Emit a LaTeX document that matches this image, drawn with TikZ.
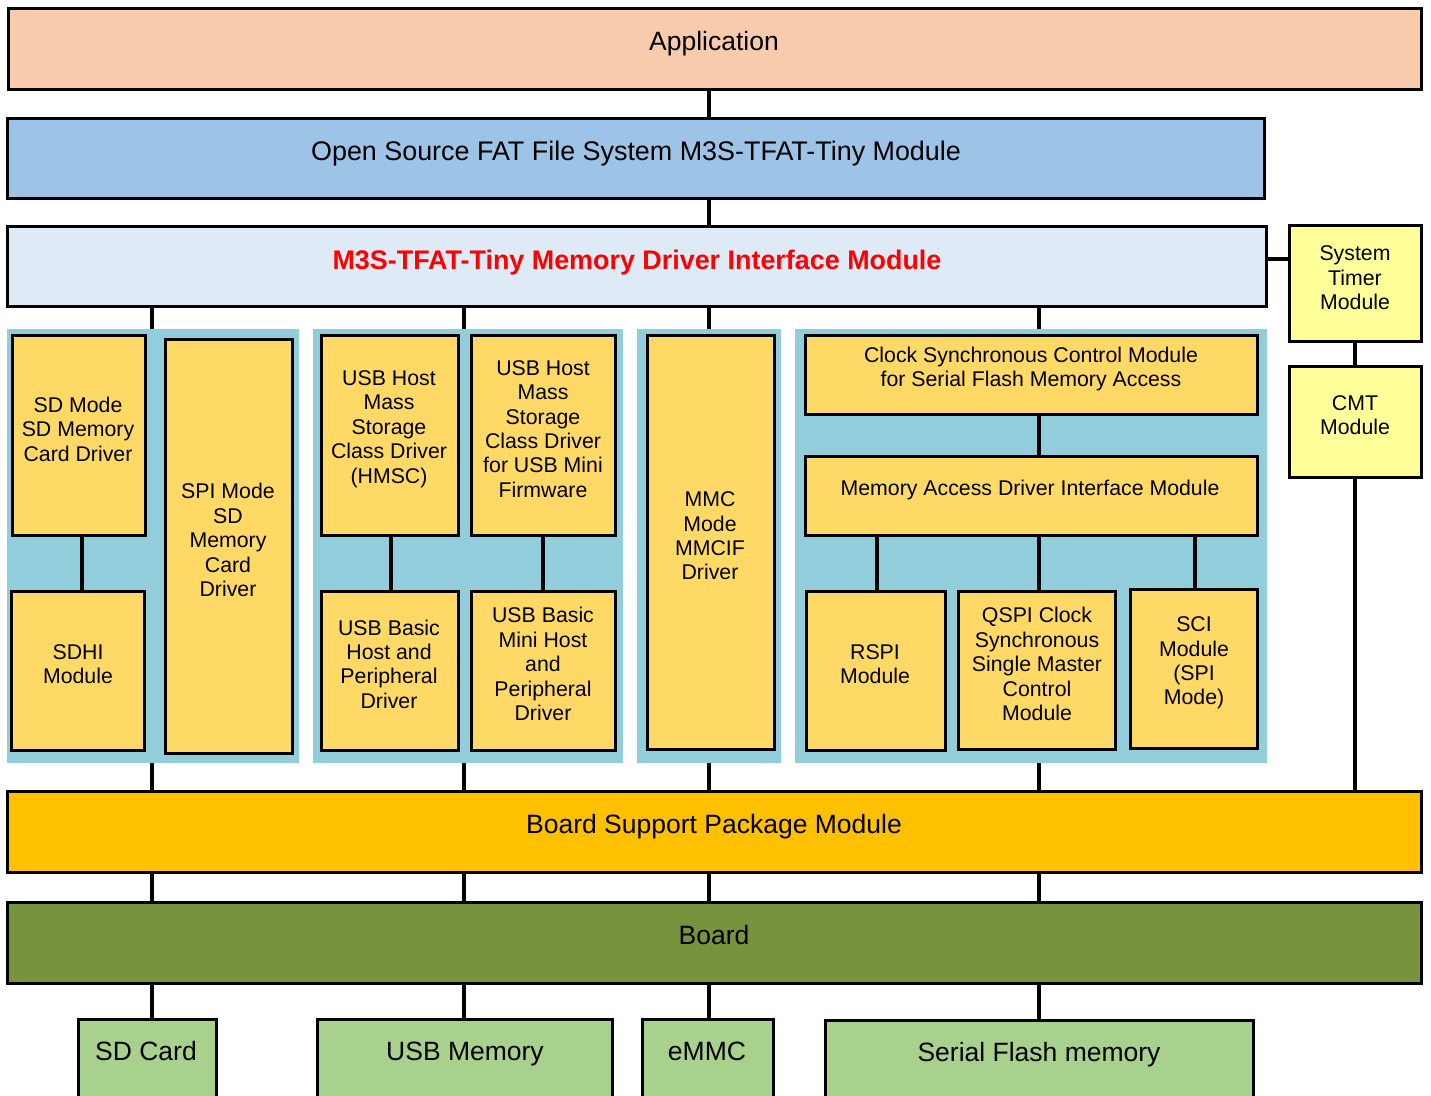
\documentclass[tikz,border=0pt]{standalone}
\usepackage{fontspec}
\setmainfont{Liberation Sans}
\usetikzlibrary{fit}
\definecolor{appc}{HTML}{F8CBAD}
\definecolor{fsc}{HTML}{9DC3E6}
\definecolor{mdic}{HTML}{DEEBF7}
\definecolor{redt}{HTML}{FF0000}
\definecolor{timc}{HTML}{FFFF99}
\definecolor{panelc}{HTML}{92CDDC}
\definecolor{modc}{HTML}{FFD966}
\definecolor{bspc}{HTML}{FFC000}
\definecolor{boardc}{HTML}{77933C}
\definecolor{devc}{HTML}{A9D18E}
\tikzset{
  blk/.style={draw=black, line width=3pt, inner sep=0pt},
  panel/.style={fill=panelc, inner sep=0pt},
  lnk/.style={draw=black, line width=3.3pt},
  big/.style={font=\fontsize{26.5}{30}\selectfont, align=center, inner sep=0pt, anchor=base, yshift=-9.5pt},
  sml/.style={font=\fontsize{21.3}{24.4}\selectfont, align=center, inner sep=0pt, yshift=-2pt},
}
\begin{document}
\begin{tikzpicture}[x=1pt,y=-1pt]
\useasboundingbox (0,0) rectangle (1431,1095);
\clip (0,0) rectangle (1431,1095);
% x positions of the main vertical connectors
\coordinate (xa) at (152,0);
\coordinate (xb) at (464,0);
\coordinate (xc) at (709,0);
\coordinate (xd) at (1039,0);
\coordinate (xsd) at (82,0);
\coordinate (xub) at (391,0);
\coordinate (xum) at (543,0);
\coordinate (xrs) at (877,0);
\coordinate (xsc) at (1195,0);
\coordinate (ytm) at (0,259);

% top layers
\node[blk, fill=appc, fit={(8,8)(1421,89)}] (app) {};
\node[blk, fill=fsc, fit={(7,118)(1264,198)}] (fs) {};
\node[blk, fill=mdic, fit={(7,226)(1266,306)}] (mdi) {};
\node[blk, fill=timc, fit={(1289,225)(1421,341)}] (stm) {};
\node[blk, fill=timc, fit={(1289,366)(1421,477)}] (cmt) {};

% panels
\node[panel, fit={(7,329)(299,763)}] (g1) {};
\node[panel, fit={(313,329)(623,763)}] (g2) {};
\node[panel, fit={(637,329)(781,763)}] (g3) {};
\node[panel, fit={(795,329)(1267,763)}] (g4) {};

% modules
\node[blk, fill=modc, fit={(12,335)(145,535)}] (sdm) {};
\node[blk, fill=modc, fit={(11,591)(144,750)}] (sdhi) {};
\node[blk, fill=modc, fit={(165,339)(292,753)}] (spi) {};
\node[blk, fill=modc, fit={(321,335)(458,535)}] (hmsc) {};
\node[blk, fill=modc, fit={(321,591)(458,750)}] (ubh) {};
\node[blk, fill=modc, fit={(471,335)(615,535)}] (hmini) {};
\node[blk, fill=modc, fit={(471,591)(615,750)}] (ubm) {};
\node[blk, fill=modc, fit={(647,335)(774,749)}] (mmc) {};
\node[blk, fill=modc, fit={(805,335)(1257,414)}] (csc) {};
\node[blk, fill=modc, fit={(805,456)(1257,535)}] (mad) {};
\node[blk, fill=modc, fit={(806,591)(945,750)}] (rspi) {};
\node[blk, fill=modc, fit={(958,591)(1115,749)}] (qspi) {};
\node[blk, fill=modc, fit={(1130,589)(1257,748)}] (sci) {};

% bottom layers
\node[blk, fill=bspc, fit={(7,791)(1421,872)}] (bsp) {};
\node[blk, fill=boardc, fit={(7,902)(1421,983)}] (board) {};
\node[blk, fill=devc, fit={(78,1019)(216,1120)}] (sdc) {};
\node[blk, fill=devc, fit={(317,1019)(612,1120)}] (usbm) {};
\node[blk, fill=devc, fit={(642,1019)(773,1120)}] (emmc) {};
\node[blk, fill=devc, fit={(825,1020)(1253,1120)}] (sfm) {};

% connectors
\draw[lnk] (app.south -| xc) -- (fs.north -| xc);
\draw[lnk] (fs.south -| xc) -- (mdi.north -| xc);
\draw[lnk] (mdi.east |- ytm) -- (stm.west |- ytm);
\draw[lnk] (stm.south) -- (cmt.north);
\draw[lnk] (cmt.south) -- (bsp.north -| cmt.south);
\foreach \xx/\g in {xa/g1, xb/g2, xc/g3, xd/g4} {
  \draw[lnk] (mdi.south -| \xx) -- (\g.north -| \xx);
  \draw[lnk] (\g.south -| \xx) -- (bsp.north -| \xx);
  \draw[lnk] (bsp.south -| \xx) -- (board.north -| \xx);
}
\draw[lnk] (board.south -| xa) -- (sdc.north -| xa);
\draw[lnk] (board.south -| xb) -- (usbm.north -| xb);
\draw[lnk] (board.south -| xc) -- (emmc.north -| xc);
\draw[lnk] (board.south -| xd) -- (sfm.north -| xd);
\draw[lnk] (sdm.south -| xsd) -- (sdhi.north -| xsd);
\draw[lnk] (hmsc.south -| xub) -- (ubh.north -| xub);
\draw[lnk] (hmini.south -| xum) -- (ubm.north -| xum);
\draw[lnk] (csc.south -| xd) -- (mad.north -| xd);
\draw[lnk] (mad.south -| xrs) -- (rspi.north -| xrs);
\draw[lnk] (mad.south -| xd) -- (qspi.north -| xd);
\draw[lnk] (mad.south -| xsc) -- (sci.north -| xsc);

% texts
\node[big] (tapp) at (714,41) {Application};
\node[big, font=\fontsize{26.9}{30}\selectfont] (tfs) at (636,151) {Open Source FAT File System M3S-TFAT-Tiny Module};
\node[big, text=redt, font=\fontsize{26.9}{30}\selectfont\bfseries] (tmdi) at (637,260) {M3S-TFAT-Tiny Memory Driver Interface Module};
\node[sml] (tstm) at (1355,276) {System\\Timer\\Module};
\node[sml] (tcmt) at (1355,413) {CMT\\Module};
\node[sml] (tsdm) at (78,427) {SD Mode\\SD Memory\\Card Driver};
\node[sml] (tsdhi) at (78,662) {SDHI\\Module};
\node[sml] (tspi) at (228,538) {SPI Mode\\SD\\Memory\\Card\\Driver};
\node[sml] (thmsc) at (389,427) {USB Host\\Mass\\Storage\\Class Driver\\(HMSC)};
\node[sml] (thmini) at (543,427) {USB Host\\Mass\\Storage\\Class Driver\\for USB Mini\\Firmware};
\node[sml] (tubh) at (389,662) {USB Basic\\Host and\\Peripheral\\Driver};
\node[sml] (tubm) at (543,662) {USB Basic\\Mini Host\\and\\Peripheral\\Driver};
\node[sml] (tmmc) at (710,534) {MMC\\Mode\\MMCIF\\Driver};
\node[sml] (tcsc) at (1031,367) {Clock Synchronous Control Module\\for Serial Flash Memory Access};
\node[sml] (tmad) at (1030,488) {Memory Access Driver Interface Module};
\node[sml] (trspi) at (875,662) {RSPI\\Module};
\node[sml] (tqspi) at (1037,662) {QSPI Clock\\Synchronous\\Single Master\\Control\\Module};
\node[sml] (tsci) at (1194,661) {SCI\\Module\\(SPI\\Mode)};
\node[big] (tbsp) at (714,824) {Board Support Package Module};
\node[big] (tboard) at (714,935) {Board};
\node[big] (tsdc) at (146,1051) {SD Card};
\node[big] (tusbm) at (465,1051) {USB Memory};
\node[big] (temmc) at (707,1051) {eMMC};
\node[big] (tsfm) at (1039,1052) {Serial Flash memory};
\end{tikzpicture}
\end{document}
